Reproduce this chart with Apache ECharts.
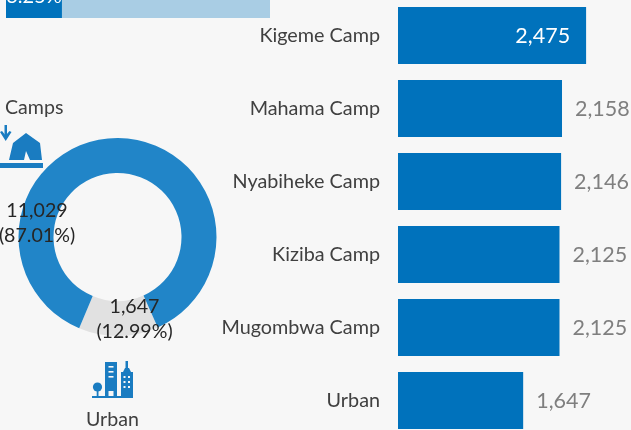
<!DOCTYPE html>
<html><head><meta charset="utf-8">
<style>html,body{margin:0;padding:0;background:#f7f7f7}#c{width:631px;height:430px}</style>
<script src="https://cdn.jsdelivr.net/npm/echarts@6/dist/echarts.min.js"></script></head>
<body><div id="c"></div>
<script>
const FONT = 'Lato,"Open Sans",sans-serif';
const campCategories = ['Kigeme Camp','Mahama Camp','Nyabiheke Camp','Kiziba Camp','Mugombwa Camp','Urban'];
const campValues = [2475,2158,2146,2125,2125,1647];
const donutNames = ['Urban','Camps'];
const donutValues = [1647,11029];
const donutLabels = ['1,647\n(12.99%)','11,029\n(87.01%)'];
const topShare = [21.2];
const topRest = [78.8];
const topLabel = '3.25%';
const ICON = '#1a7cc1', BG = '#f7f7f7';
const rect = (x,y,w,h,fill)=>({type:'rect',z:50,shape:{x,y,width:w,height:h},style:{fill:fill||ICON}});
const poly = (points,fill)=>({type:'polygon',z:50,shape:{points},style:{fill:fill||ICON}});
const icons = [
  // tent
  rect(0,163,43,5),
  poly([[9,160],[13,143],[26,133],[40,143],[42,160],[30,160],[26,151],[24,160]]),
  rect(4.5,125,2.5,13),
  poly([[0,132],[2,131],[5.7,135.5],[9.5,131],[11.5,132],[5.7,141]]),
  // buildings
  rect(92,396,41,2),
  rect(105,362,12,34),
  rect(108.5,366,5,1.6,BG),rect(108.5,371,5,1.6,BG),rect(108.5,376,5,1.6,BG),rect(108.5,391,5,5,BG),
  rect(121,372,12,24),
  rect(125.5,361,2.5,11),
  poly([[123,372],[125,368],[129,368],[131,372]]),
  rect(123.5,376,2,2,BG),rect(128,376,2,2,BG),rect(123.5,381,2,2,BG),rect(128,381,2,2,BG),rect(123.5,386,2,2,BG),rect(128,386,2,2,BG),
  {type:'circle',z:50,shape:{cx:97.5,cy:387,r:4.6},style:{fill:ICON}},
  rect(96.7,390,1.8,6)
];
const txt = (o)=>({type:'text',z:100,style:Object.assign({fontSize:19.6,fontFamily:FONT,fill:'#404040'},o.style),x:o.x,y:o.y});
const chart = echarts.init(document.getElementById('c'));
chart.setOption({
  animation:false,
  backgroundColor:BG,
  textStyle:{fontFamily:FONT},
  grid:[
    {left:398,top:-1,width:233,height:438,outerBoundsMode:'none'},
    {left:6,top:-40,width:264,height:58,outerBoundsMode:'none'}
  ],
  xAxis:[
    {gridIndex:0,type:'value',min:0,max:233/0.076,show:false},
    {gridIndex:1,type:'value',min:0,max:100,show:false}
  ],
  yAxis:[
    {gridIndex:0,type:'category',inverse:true,data:campCategories,
     axisLine:{show:false},axisTick:{show:false},
     axisLabel:{color:'#404040',fontSize:19.8,margin:18,fontFamily:FONT,padding:[5,0,0,0]}},
    {gridIndex:1,type:'category',data:[''],show:false}
  ],
  series:[
    {type:'bar',xAxisIndex:0,yAxisIndex:0,barWidth:57,silent:true,
     data:campValues.map((v,i)=>({value:v,label:i===0
       ?{show:true,position:'insideRight',distance:16,color:'#ffffff',offset:[0,1]}
       :{show:true,position:'right',distance:13,color:'#7f7f7f',offset:[0,1]}})),
     itemStyle:{color:'#0072bc'},
     label:{fontSize:21.5,fontFamily:FONT,formatter:p=>p.value.toLocaleString('en-US')}},
    {type:'bar',xAxisIndex:1,yAxisIndex:1,stack:'t',barWidth:58,data:topShare,itemStyle:{color:'#0072bc'},
     label:{show:true,position:'inside',color:'#fff',fontSize:20,offset:[0,8],formatter:()=>topLabel}},
    {type:'bar',xAxisIndex:1,yAxisIndex:1,stack:'t',data:topRest,itemStyle:{color:'#a9cde4'}},
    {type:'pie',center:[117.5,237],radius:[64,99],startAngle:294,clockwise:true,silent:true,
     data:donutValues.map((v,i)=>({value:v,name:donutNames[i],
       itemStyle:{color:i===0?'#e1e1e1':'#2185c8'}})),
     label:{show:false},labelLine:{show:false}}
  ],
  graphic:[
    txt({x:5,y:98,style:{text:'Camps'}}),
    txt({x:86,y:410,style:{text:'Urban'}}),
    txt({x:37,y:223,style:{text:donutLabels[1],lineHeight:25,fill:'#262626',align:'center',verticalAlign:'middle'}}),
    txt({x:134.5,y:319,style:{text:donutLabels[0],lineHeight:25,fill:'#262626',align:'center',verticalAlign:'middle'}})
  ].concat(icons)
});
</script></body></html>
